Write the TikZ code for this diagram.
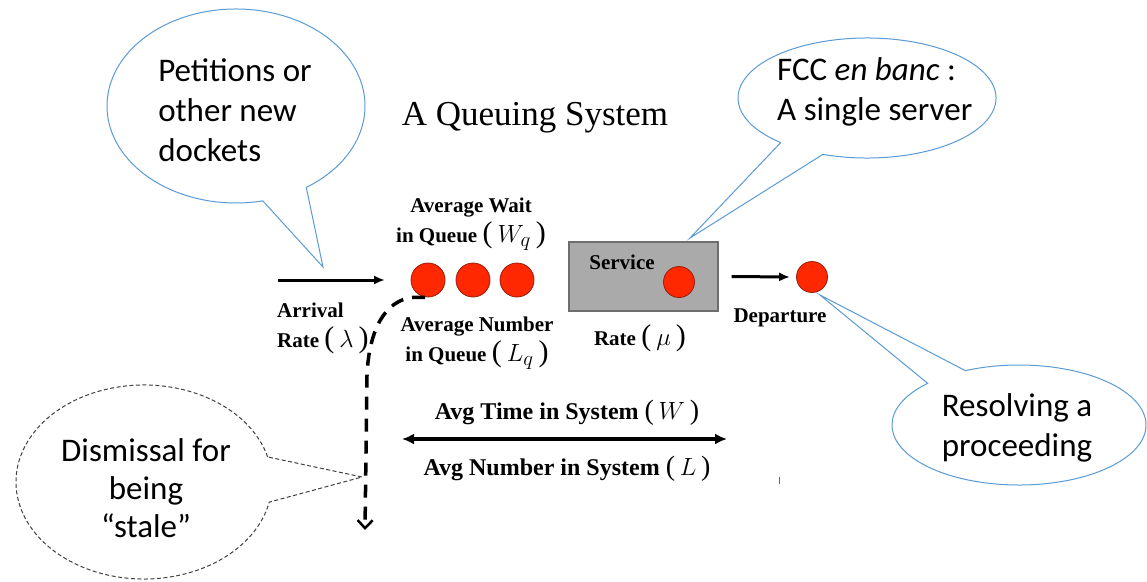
\documentclass[tikz,border=0pt]{standalone}
\usepackage{fontspec}
\setmainfont{Liberation Serif}
\newfontfamily\calibri{Carlito}
\usetikzlibrary{arrows.meta,calc}
\definecolor{cblue}{RGB}{91,155,213}
\definecolor{qred}{RGB}{255,40,0}
\definecolor{qedge}{RGB}{150,30,10}
\definecolor{boxgray}{RGB}{170,170,170}
\definecolor{boxedge}{RGB}{110,110,110}
\newcommand\qmath[2]{{\fontsize{#1}{#1}\selectfont\mdseries(\,$#2$\,)}}
\begin{document}
\begin{tikzpicture}[x=1pt,y=1pt,
  callout/.style={draw=cblue, line width=1pt, fill=white},
  dcallout/.style={draw=black!75, dash pattern=on 4pt off 2.5pt, line width=1pt, fill=white},
  bubbletext/.style={font=\calibri\fontsize{33}{40}\selectfont, inner sep=0pt},
  lab/.style={font=\bfseries\fontsize{21}{30}\selectfont, inner sep=0pt, align=center},
  sys/.style={font=\bfseries\fontsize{24}{28}\selectfont, inner sep=0pt},
  cust/.style={circle, fill=qred, draw=qedge, line width=0.8pt, minimum size=34pt, inner sep=0pt},
  flow/.style={-{Latex[length=11pt,width=9pt]}, line width=3pt},
]
\useasboundingbox (0,0) rectangle (1147,-581);
\fill[white] (0,0) rectangle (1147,-581);

% callouts
\draw[callout] (236,-106) ++(-57:129pt and 97pt)
  arc[start angle=-57, end angle=282, x radius=129pt, y radius=97pt]
  -- (323,-267) -- cycle;
\node[bubbletext, align=left] (pet) at (235,-110) {Petitions or\\other new\\dockets};

\draw[callout] (867,-98) ++(250:129pt and 60pt)
  arc[start angle=250, end angle=588, x radius=129pt, y radius=60pt]
  -- (690,-238) -- cycle;
\node[bubbletext, align=left, anchor=west] (fcc) at (777,-92) {FCC \textit{en banc} :\\A single server};

\draw[callout] (1019,-425) ++(136:127pt and 60pt)
  arc[start angle=136, end angle=475, x radius=127pt, y radius=60pt]
  -- (820,-295) -- cycle;
\node[bubbletext, align=center] (res) at (1017,-428) {Resolving a\\proceeding};

\draw[dcallout] (144,-482) ++(15:128pt and 97pt)
  arc[start angle=15, end angle=348, x radius=128pt, y radius=97pt]
  -- (362,-477) -- cycle;
\node[bubbletext, align=center, font=\calibri\fontsize{33}{38}\selectfont] (dis) at (146,-488) {Dismissal for\\being\\“stale”};

% title
\node[inner sep=0pt, font=\fontsize{35}{40}\selectfont] (title) at (535,-118) {A Queuing System};

% queue
\node[cust] (q1) at (428,-280) {};
\node[cust] (q2) at (473,-280) {};
\node[cust] (q3) at (517,-280) {};
\coordinate (arrin) at (278,-280);
\coordinate (arrend) at (385,-280);
\draw[flow] (arrin) -- (arrend);

\node[lab] (wq) at (471,-224) {Average Wait\\in Queue \qmath{30}{W_q}};
\node[lab] (lq) at (477,-343) {Average Number\\in Queue \qmath{30}{L_q}};
\node[lab, align=left, anchor=west] (arr) at (277,-328) {Arrival\\Rate \qmath{30}{\lambda}};

% server
\node[draw=boxedge, fill=boxgray, line width=1.3pt, minimum width=149pt, minimum height=69pt, inner sep=0pt] (box) at (643.5,-276.5) {};
\node[lab] (svc) at (622,-262) {Service};
\node[cust, minimum size=31pt] (srv) at (679,-282) {};
\node[lab] (mu) at (640,-338) {Rate \qmath{30}{\mu}};

\node[cust, minimum size=31pt] (dep) at (812,-277) {};
\draw[flow] ([xshift=13pt]box.east) -- ([xshift=-6pt]dep.west);
\node[lab] (deplab) at (780,-318) {Departure};

% dropout
\coordinate (drop) at (365,-530);
\draw[line width=3.5pt, dash pattern=on 13pt off 9pt, -{Straight Barb[length=8pt,width=15pt,line width=2.5pt]}]
  ([xshift=-3pt]q1.south) -- ++(-12,0) .. controls (385,-300) and (369,-330) .. (367,-375) -- (drop);

% system
\coordinate (sysL) at (402,-439);
\coordinate (sysR) at (727,-439);
\draw[line width=3.5pt, {Latex[length=12pt,width=11pt]}-{Latex[length=12pt,width=11pt]}] (sysL) -- (sysR);
\node[sys] (wt) at (567,-413) {Avg Time in System \qmath{28}{W}};
\node[sys] (nl) at (567,-469) {Avg Number in System \qmath{28}{L}};

\draw[black!60, line width=0.8pt] (779,-477) -- (779,-484);
\end{tikzpicture}
\end{document}
